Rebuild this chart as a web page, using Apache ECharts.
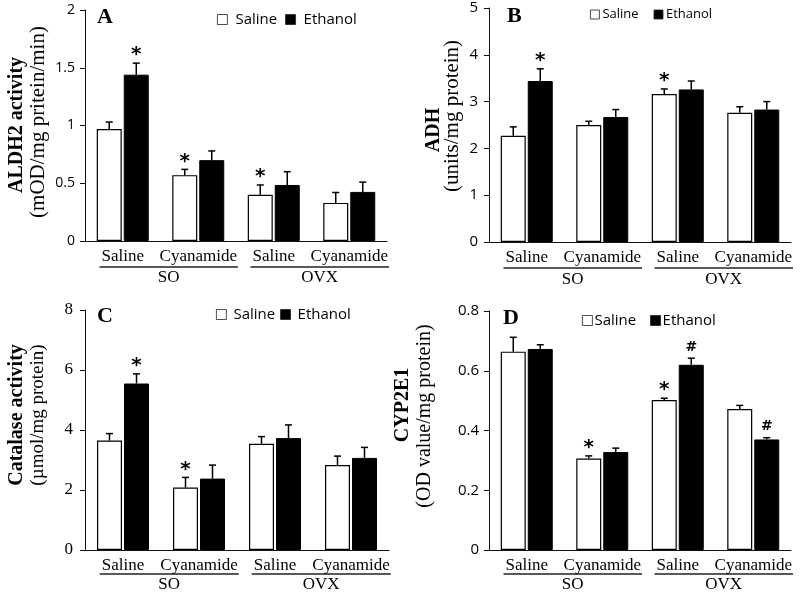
<!DOCTYPE html>
<html>
<head>
<meta charset="utf-8">
<script src="https://cdn.jsdelivr.net/npm/echarts@6/dist/echarts.min.js"></script>
<style>html,body{margin:0;padding:0;background:#fff;}#c{width:800px;height:594px;}</style>
</head>
<body>
<div id="c"></div>
<script>
// ---------- data ----------
const categories = ['Saline', 'Cyanamide', 'Saline', 'Cyanamide'];
const groups = ['SO', 'OVX'];
const seriesNames = ['Saline', 'Ethanol'];

// A: ALDH2 activity
const aldhSaline = [0.97, 0.57, 0.40, 0.33];
const aldhSalineErr = [0.06, 0.05, 0.085, 0.09];
const aldhEthanol = [1.44, 0.70, 0.485, 0.425];
const aldhEthanolErr = [0.10, 0.08, 0.115, 0.085];
const aldhSalineMarks = ['', '*', '*', ''];
const aldhEthanolMarks = ['*', '', '', ''];
const aldhTicks = [0, 0.5, 1, 1.5, 2];

// B: ADH
const adhSaline = [2.27, 2.50, 3.16, 2.76];
const adhSalineErr = [0.19, 0.08, 0.11, 0.13];
const adhEthanol = [3.44, 2.67, 3.26, 2.83];
const adhEthanolErr = [0.26, 0.16, 0.18, 0.17];
const adhSalineMarks = ['', '', '*', ''];
const adhEthanolMarks = ['*', '', '', ''];
const adhTicks = [0, 1, 2, 3, 4, 5];

// C: Catalase activity
const catSaline = [3.65, 2.08, 3.54, 2.83];
const catSalineErr = [0.23, 0.34, 0.24, 0.30];
const catEthanol = [5.55, 2.38, 3.73, 3.07];
const catEthanolErr = [0.32, 0.45, 0.44, 0.35];
const catSalineMarks = ['', '*', '', ''];
const catEthanolMarks = ['*', '', '', ''];
const catTicks = [0, 2, 4, 6, 8];

// D: CYP2E1
const cypSaline = [0.664, 0.306, 0.502, 0.472];
const cypSalineErr = [0.048, 0.009, 0.006, 0.012];
const cypEthanol = [0.673, 0.328, 0.620, 0.370];
const cypEthanolErr = [0.014, 0.013, 0.022, 0.006];
const cypSalineMarks = ['', '*', '*', ''];
const cypEthanolMarks = ['', '', '#', '#'];
const cypTicks = [0, 0.2, 0.4, 0.6, 0.8];

// ---------- layout / style ----------
const SERIF = '"Liberation Serif", "Times New Roman", serif';
const SANS = '"Open Sans", "Noto Sans", sans-serif';
const BAR_W = 25, BAR_GAP = 2, CAP = 3.5;

const panels = [
  { letter: 'A', title: 'ALDH2 activity', sub: '(mOD/mg pritein/min)',
    saline: aldhSaline, salineErr: aldhSalineErr, ethanol: aldhEthanol, ethanolErr: aldhEthanolErr,
    salineMarks: aldhSalineMarks, ethanolMarks: aldhEthanolMarks, ticks: aldhTicks,
    grid: { left: 85, top: 10, width: 302, height: 231 },
    tickFont: { fontFamily: SANS, fontSize: 14 }, tickMargin: 10,
    letterPos: [97, 17], titlePos: [17, 125], subPos: [38, 122], titleSize: 20, subSize: 21,
    legend: { left: 212, top: 7, fontSize: 15, item: 10, gap: 8, pad: 3 },
    uOff: 26, gOff: 37 },
  { letter: 'B', title: 'ADH', sub: '(units/mg protein)',
    saline: adhSaline, salineErr: adhSalineErr, ethanol: adhEthanol, ethanolErr: adhEthanolErr,
    salineMarks: adhSalineMarks, ethanolMarks: adhEthanolMarks, ticks: adhTicks,
    grid: { left: 489, top: 8, width: 302, height: 234 },
    tickFont: { fontFamily: SANS, fontSize: 15 }, tickMargin: 11,
    letterPos: [507, 16], titlePos: [434, 130], subPos: [452, 116], titleSize: 20, subSize: 21,
    legend: { left: 585, top: 3, fontSize: 13, item: 9, gap: 15, pad: -2 },
    uOff: 26, gOff: 38 },
  { letter: 'C', title: 'Catalase activity', sub: '(\u00B5mol/mg protein)',
    saline: catSaline, salineErr: catSalineErr, ethanol: catEthanol, ethanolErr: catEthanolErr,
    salineMarks: catSalineMarks, ethanolMarks: catEthanolMarks, ticks: catTicks,
    grid: { left: 85, top: 310, width: 304, height: 240 },
    tickFont: { fontFamily: SERIF, fontSize: 17 }, tickMargin: 12,
    letterPos: [97, 316], titlePos: [17, 415], subPos: [38, 415], titleSize: 20, subSize: 19,
    legend: { left: 211, top: 302, fontSize: 15, item: 10, gap: 5, pad: 2 },
    uOff: 24, gOff: 35 },
  { letter: 'D', title: 'CYP2E1', sub: '(OD value/mg protein)',
    saline: cypSaline, salineErr: cypSalineErr, ethanol: cypEthanol, ethanolErr: cypEthanolErr,
    salineMarks: cypSalineMarks, ethanolMarks: cypEthanolMarks, ticks: cypTicks,
    grid: { left: 489, top: 311, width: 302, height: 239 },
    tickFont: { fontFamily: SANS, fontSize: 15 }, tickMargin: 10,
    letterPos: [503, 318], titlePos: [403, 405], subPos: [425, 416], titleSize: 20, subSize: 20,
    legend: { left: 577, top: 308, fontSize: 15, item: 10, gap: 14, pad: -3 },
    uOff: 24, gOff: 35 }
];

function markFont(m) {
  return m === '#' ? 'bold 14px "DejaVu Sans", sans-serif' : 'bold 20px "DejaVu Sans", sans-serif';
}

function makeErrRender(side, marks) {
  return function (params, api) {
    const ci = api.value(0), v = api.value(1), e = api.value(2);
    const p0 = api.coord([ci, v]);
    const p1 = api.coord([ci, v + e]);
    const x = p0[0] + side * (BAR_W + BAR_GAP) / 2;
    const children = [
      { type: 'line', shape: { x1: x, y1: p0[1], x2: x, y2: p1[1] }, style: { stroke: '#000', lineWidth: 1.5 } },
      { type: 'line', shape: { x1: x - CAP, y1: p1[1], x2: x + CAP, y2: p1[1] }, style: { stroke: '#000', lineWidth: 1.5 } }
    ];
    const m = marks[params.dataIndex];
    if (m) {
      children.push({ type: 'text', x: x, y: p1[1] - (m === '#' ? 11 : 8),
        style: { text: m, fill: '#000', font: markFont(m), align: 'center', verticalAlign: 'middle' } });
    }
    return { type: 'group', children: children };
  };
}

const grids = [], xAxes = [], yAxes = [], series = [], legends = [];
panels.forEach((p, i) => {
  grids.push(Object.assign({}, p.grid));
  xAxes.push({ type: 'category', gridIndex: i, data: categories,
    axisLine: { lineStyle: { color: '#111', width: 1 } }, axisTick: { show: false },
    axisLabel: { interval: 0, fontFamily: SERIF, fontSize: 17, color: '#000', margin: 7 } });
  const t = p.ticks;
  yAxes.push({ type: 'value', gridIndex: i, min: t[0], max: t[t.length - 1], interval: t[1] - t[0],
    axisLine: { show: true, lineStyle: { color: '#111', width: 1 } },
    axisTick: { show: true, length: 5, lineStyle: { color: '#111' } },
    splitLine: { show: false },
    axisLabel: { color: '#000', fontFamily: p.tickFont.fontFamily, fontSize: p.tickFont.fontSize, margin: p.tickMargin,
      formatter: v => String(+v.toFixed(3)) } });
  series.push({ type: 'bar', name: seriesNames[0], xAxisIndex: i, yAxisIndex: i, data: p.saline,
    barWidth: BAR_W, barGap: (BAR_GAP / BAR_W * 100) + '%',
    itemStyle: { color: '#fff', borderColor: '#000', borderWidth: 1.2 } });
  series.push({ type: 'bar', name: seriesNames[1], xAxisIndex: i, yAxisIndex: i, data: p.ethanol,
    barWidth: BAR_W, barGap: (BAR_GAP / BAR_W * 100) + '%',
    itemStyle: { color: '#000', borderColor: '#000', borderWidth: 1 } });
  series.push({ type: 'custom', name: 'errS' + i, xAxisIndex: i, yAxisIndex: i, z: 5,
    renderItem: makeErrRender(-1, p.salineMarks),
    data: p.saline.map((v, k) => [k, v, p.salineErr[k]]), encode: { x: 0, y: 1 } });
  series.push({ type: 'custom', name: 'errE' + i, xAxisIndex: i, yAxisIndex: i, z: 5,
    renderItem: makeErrRender(1, p.ethanolMarks),
    data: p.ethanol.map((v, k) => [k, v, p.ethanolErr[k]]), encode: { x: 0, y: 1 } });
  const L = p.legend;
  legends.push({ data: seriesNames, left: L.left, top: L.top, orient: 'horizontal', icon: 'rect',
    itemWidth: L.item, itemHeight: L.item, itemGap: L.gap, selectedMode: false,
    itemStyle: { borderWidth: 0.8, borderColor: '#222' },
    textStyle: { fontFamily: SANS, fontSize: L.fontSize, color: '#000', padding: [0, 0, 0, L.pad] } });
});

const chart = echarts.init(document.getElementById('c'), null, { renderer: 'canvas' });
chart.setOption({ animation: false, backgroundColor: '#fff', grid: grids, xAxis: xAxes, yAxis: yAxes,
  legend: legends, series: series });

// ---------- annotations derived from the axes ----------
const mctx = document.createElement('canvas').getContext('2d');
mctx.font = '17px ' + SERIF;
function tw(s) { return mctx.measureText(s).width; }

const graphics = [];
panels.forEach((p, i) => {
  graphics.push({ type: 'text', x: p.letterPos[0], y: p.letterPos[1],
    style: { text: p.letter, font: 'bold 22px ' + SERIF, fill: '#000', align: 'left', verticalAlign: 'middle' } });
  graphics.push({ type: 'text', x: p.titlePos[0], y: p.titlePos[1], rotation: Math.PI / 2,
    style: { text: p.title, font: 'bold ' + p.titleSize + 'px ' + SERIF, fill: '#000', align: 'center', verticalAlign: 'middle' } });
  graphics.push({ type: 'text', x: p.subPos[0], y: p.subPos[1], rotation: Math.PI / 2,
    style: { text: p.sub, font: p.subSize + 'px ' + SERIF, fill: '#000', align: 'center', verticalAlign: 'middle' } });
  const axisY = chart.convertToPixel({ yAxisIndex: i }, 0);
  groups.forEach((g, gi) => {
    const c0 = chart.convertToPixel({ xAxisIndex: i }, gi * 2);
    const c1 = chart.convertToPixel({ xAxisIndex: i }, gi * 2 + 1);
    const xs = c0 - tw(categories[gi * 2]) / 2 - 2;
    const xe = c1 + tw(categories[gi * 2 + 1]) / 2 + 1;
    graphics.push({ type: 'line', shape: { x1: xs, y1: axisY + p.uOff, x2: xe, y2: axisY + p.uOff },
      style: { stroke: '#222', lineWidth: 1.5 } });
    graphics.push({ type: 'text', x: (xs + xe) / 2, y: axisY + p.gOff,
      style: { text: g, font: '17px ' + SERIF, fill: '#000', align: 'center', verticalAlign: 'middle' } });
  });
});
chart.setOption({ graphic: graphics });
</script>
</body>
</html>
